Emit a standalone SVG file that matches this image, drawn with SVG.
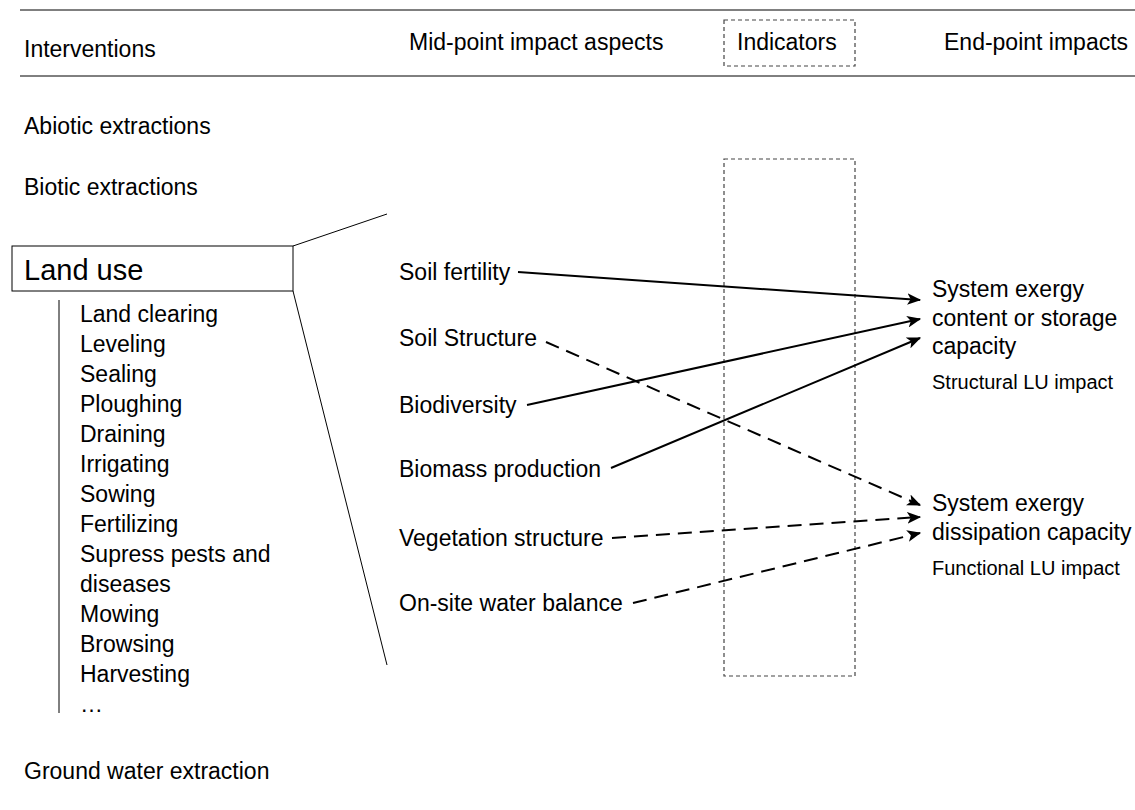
<svg xmlns="http://www.w3.org/2000/svg" width="1135" height="810" viewBox="0 0 1135 810">
<style>
text{font-family:"Liberation Sans",Arial,sans-serif;fill:#000}
.t{font-size:23px}
.h{font-size:23px}
.s{font-size:20px}
.thin{stroke:#000;stroke-width:1;fill:none}
.dot{stroke:#444;stroke-width:1.2;fill:none;stroke-dasharray:4 3}
.c{stroke:#000;stroke-width:2;fill:none}
.d{stroke-dasharray:14 8}
</style>
<defs>
<marker id="ah" viewBox="0 0 12 10" refX="11" refY="5" markerWidth="7" markerHeight="6" markerUnits="strokeWidth" orient="auto">
<path d="M0,0 L12,5 L0,10 L3,5 z" fill="#000"/>
</marker>
</defs>
<g id="header">
<line class="thin" x1="20" y1="10" x2="1135" y2="10"/>
<line class="thin" x1="20" y1="76" x2="1135" y2="76"/>
<text class="h" x="24" y="57">Interventions</text>
<text class="h" x="409" y="50">Mid-point impact aspects</text>
<rect class="dot" x="724" y="20" width="131" height="46"/>
<text class="h" x="737" y="50">Indicators</text>
<text class="h" x="944" y="50">End-point impacts</text>
</g>
<g id="abiotic"><text class="t" x="24" y="134">Abiotic extractions</text></g>
<g id="biotic"><text class="t" x="24" y="195">Biotic extractions</text></g>
<g id="landuse">
<rect class="thin" x="12" y="246" width="281" height="45"/>
<text x="24" y="280" style="font-size:29px">Land use</text>
<line class="thin" x1="293" y1="246" x2="387" y2="214"/>
<line class="thin" x1="293" y1="291" x2="387" y2="665"/>
<line class="thin" x1="59" y1="300" x2="59" y2="713"/>
<text class="t" x="80" y="322">Land clearing</text>
<text class="t" x="80" y="352">Leveling</text>
<text class="t" x="80" y="382">Sealing</text>
<text class="t" x="80" y="412">Ploughing</text>
<text class="t" x="80" y="442">Draining</text>
<text class="t" x="80" y="472">Irrigating</text>
<text class="t" x="80" y="502">Sowing</text>
<text class="t" x="80" y="532">Fertilizing</text>
<text class="t" x="80" y="562">Supress pests and</text>
<text class="t" x="80" y="592">diseases</text>
<text class="t" x="80" y="622">Mowing</text>
<text class="t" x="80" y="652">Browsing</text>
<text class="t" x="80" y="682">Harvesting</text>
<text class="t" x="80" y="712">…</text>
</g>
<g id="groundwater"><text class="t" x="24" y="779">Ground water extraction</text></g>
<g id="indicators"><rect class="dot" x="724" y="159" width="131" height="517"/></g>
<g id="soilfertility"><text class="t" x="399" y="280">Soil fertility</text></g>
<g id="soilstructure"><text class="t" x="399" y="346">Soil Structure</text></g>
<g id="biodiversity"><text class="t" x="399" y="413">Biodiversity</text></g>
<g id="biomass"><text class="t" x="399" y="477">Biomass production</text></g>
<g id="vegetation"><text class="t" x="399" y="546">Vegetation structure</text></g>
<g id="water"><text class="t" x="399" y="611">On-site water balance</text></g>
<g id="structural">
<text class="t" x="932" y="297">System exergy</text>
<text class="t" x="932" y="326">content or storage</text>
<text class="t" x="932" y="354">capacity</text>
<text class="s" x="932" y="389">Structural LU impact</text>
</g>
<g id="functional">
<text class="t" x="932" y="511">System exergy</text>
<text class="t" x="932" y="540">dissipation capacity</text>
<text class="s" x="932" y="575">Functional LU impact</text>
</g>
<g id="connectors">
<line class="c" x1="518" y1="272" x2="920" y2="300" marker-end="url(#ah)"/>
<line class="c" x1="527" y1="405" x2="920" y2="319" marker-end="url(#ah)"/>
<line class="c" x1="611" y1="468" x2="920" y2="338" marker-end="url(#ah)"/>
<line class="c d" x1="546" y1="342" x2="920" y2="505" marker-end="url(#ah)"/>
<line class="c d" x1="612" y1="538" x2="920" y2="517" marker-end="url(#ah)"/>
<line class="c d" x1="633" y1="603" x2="920" y2="533" marker-end="url(#ah)"/>
</g>
</svg>
